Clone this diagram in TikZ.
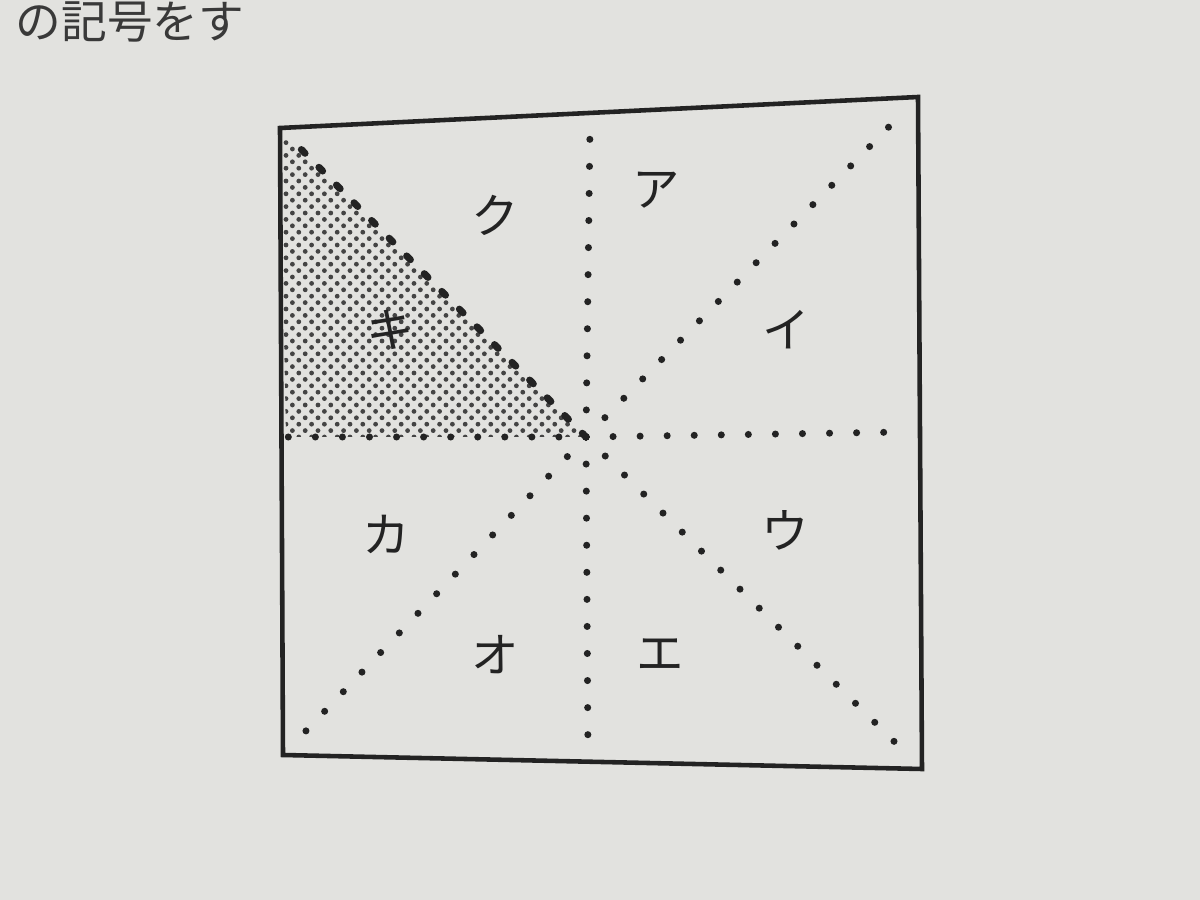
\documentclass[tikz,border=0pt]{standalone}
\usepackage{fontspec}
\newfontfamily\jp{Noto Sans CJK JP}
\usetikzlibrary{calc}
\definecolor{paper}{RGB}{226,226,223}
\definecolor{ink}{RGB}{35,35,35}

\tikzset{
  frame/.style={draw=ink, line width=1.3pt, line join=miter},
  dotline/.style={draw=ink, line width=2pt, line cap=round, dash pattern=on 0pt off 7.7pt},
  kana/.style={font=\jp\fontsize{13.5}{13.5}\selectfont, text=ink, inner sep=0pt}
}

\begin{document}
\begin{tikzpicture}

  \fill[paper] (0,0) rectangle (12,9);
  \useasboundingbox (0,0) rectangle (12,9);

  % esquinas y puntos medios
  \coordinate (tl) at (2.80,7.72);
  \coordinate (tr) at (9.18,8.03);
  \coordinate (bl) at (2.83,1.45);
  \coordinate (br) at (9.22,1.31);
  \coordinate (o)  at (5.86,4.63);
  \coordinate (n)  at (5.90,7.72);
  \coordinate (s)  at (5.88,1.40);
  \coordinate (w)  at (2.86,4.63);
  \coordinate (e)  at (9.05,4.68);

  % triangulo sombreado (puntos)
  \begin{scope}
    \clip (tl) -- (o) -- (w) -- cycle;
    \begin{scope}[shift={(w)}]
      \foreach \a in {0,...,50}
        \foreach \b in {-25,...,25}
          \fill[ink!85] ({(\a+\b)*0.064},{(\a-\b)*0.064}) circle (0.024);
    \end{scope}
  \end{scope}

  % lineas punteadas
  \draw[dotline] (o) -- (n);
  \draw[dotline] (o) -- (s);
  \draw[dotline] (o) -- (e);
  \draw[dotline] (o) -- (w);
  \draw[dotline] (o) -- ($(o)!0.96!(tr)$);
  \draw[dotline] (o) -- ($(o)!0.96!(br)$);
  \draw[dotline] (o) -- ($(o)!0.96!(bl)$);
  \draw[dotline, dash pattern=on 1.5pt off 5.6pt] (o) -- ($(o)!0.97!(tl)$);

  % marco
  \draw[frame] (tl) -- (tr) -- (br) -- (bl) -- cycle;

  % etiquetas
  \node[kana] (la)  at (6.56,7.10) {ア};
  \node[kana] (li)  at (7.86,5.70) {イ};
  \node[kana] (lu)  at (7.85,3.70) {ウ};
  \node[kana] (le)  at (6.60,2.45) {エ};
  \node[kana] (lo)  at (4.95,2.45) {オ};
  \node[kana] (lka) at (3.86,3.66) {カ};
  \node[kana] (lki) at (3.90,5.70) {キ};
  \node[kana] (lku) at (4.95,6.85) {ク};

  % texto de arriba
  \node[kana, anchor=west, font=\jp\fontsize{13}{13}\selectfont, text=ink!90] (hdr) at (0.15,8.78) {の記号をす};

\end{tikzpicture}
\end{document}
